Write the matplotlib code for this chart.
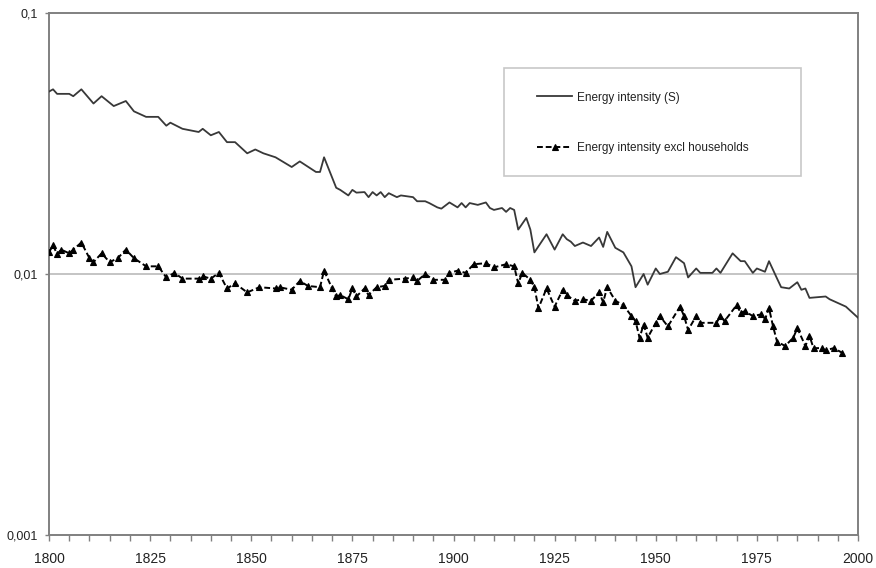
import matplotlib
matplotlib.use("Agg")
import matplotlib.pyplot as plt
from matplotlib.ticker import FixedLocator, MultipleLocator
from matplotlib.patches import Rectangle

plt.rcParams['font.family'] = ['Liberation Sans', 'DejaVu Sans']

# Energy intensity (S)
years_s = [1800, 1801, 1802, 1805, 1806, 1808, 1811, 1813, 1816, 1819, 1821, 1824, 1827, 1829,
           1830, 1833, 1837, 1838, 1840, 1842, 1844, 1846, 1849, 1851, 1853, 1856, 1860, 1862,
           1866, 1867, 1868, 1871, 1872, 1874, 1875, 1876, 1878, 1879, 1880, 1881, 1882, 1883,
           1884, 1886, 1887, 1890, 1891, 1893, 1894, 1896, 1897, 1899, 1901, 1902, 1903, 1904,
           1906, 1908, 1909, 1910, 1912, 1913, 1914, 1915, 1916, 1918, 1919, 1920, 1923, 1925,
           1927, 1928, 1929, 1930, 1932, 1934, 1936, 1937, 1938, 1940, 1942, 1944, 1945, 1947,
           1948, 1950, 1951, 1953, 1955, 1957, 1958, 1960, 1961, 1964, 1965, 1966, 1969, 1971,
           1972, 1974, 1975, 1977, 1978, 1980, 1981, 1983, 1985, 1986, 1987, 1988, 1992, 1993,
           1997, 2000]
vals_s = [0.050, 0.051, 0.049, 0.049, 0.048, 0.051, 0.045, 0.048, 0.044, 0.046, 0.042, 0.040, 0.040, 0.037,
          0.038, 0.036, 0.035, 0.036, 0.034, 0.035, 0.032, 0.032, 0.029, 0.030, 0.029, 0.028, 0.0257, 0.027,
          0.0246, 0.0246, 0.028, 0.0214, 0.021, 0.020, 0.021, 0.0205, 0.0206, 0.0197, 0.0206, 0.020, 0.0206, 0.0197,
          0.0204, 0.0197, 0.020, 0.0197, 0.019, 0.019, 0.0187, 0.018, 0.0178, 0.0188, 0.018, 0.0187, 0.018, 0.0187,
          0.0184, 0.0188, 0.0179, 0.0176, 0.0179, 0.0173, 0.0179, 0.0176, 0.0148, 0.0164, 0.0148, 0.0121, 0.0142, 0.0124,
          0.0142, 0.0136, 0.0133, 0.0128, 0.0132, 0.0128, 0.0138, 0.0127, 0.0145, 0.0126, 0.0121, 0.0107, 0.0089, 0.0100,
          0.0091, 0.0105, 0.0100, 0.0102, 0.0116, 0.0110, 0.0097, 0.0105, 0.0101, 0.0101, 0.0105, 0.0101, 0.0120, 0.0112,
          0.0112, 0.0101, 0.0105, 0.0102, 0.0112, 0.0096, 0.0089, 0.0088, 0.0093, 0.0087, 0.0088, 0.0081, 0.0082, 0.0080,
          0.0075, 0.0068]

# Energy intensity excl households
years_x = [1800, 1801, 1802, 1803, 1805, 1806, 1808, 1810, 1811, 1813, 1815, 1817, 1819, 1821, 1824, 1827,
           1829, 1831, 1833, 1837, 1838, 1840, 1842, 1844, 1846, 1849, 1852, 1856, 1857, 1860, 1862, 1864,
           1867, 1868, 1870, 1871, 1872, 1874, 1875, 1876, 1878, 1879, 1881, 1883, 1884, 1888, 1890, 1891,
           1893, 1895, 1898, 1899, 1901, 1903, 1905, 1908, 1910, 1913, 1915, 1916, 1917, 1919, 1920, 1921,
           1923, 1925, 1927, 1928, 1930, 1932, 1934, 1936, 1937, 1938, 1940, 1942, 1944, 1945, 1946, 1947,
           1948, 1950, 1951, 1953, 1956, 1957, 1958, 1960, 1961, 1965, 1966, 1967, 1970, 1971, 1972, 1974,
           1976, 1977, 1978, 1979, 1980, 1982, 1984, 1985, 1987, 1988, 1989, 1991, 1992, 1994, 1996]
vals_x = [0.0121, 0.0129, 0.0119, 0.0124, 0.0120, 0.0124, 0.0132, 0.0115, 0.0111, 0.0120, 0.0111, 0.0115, 0.0124, 0.0115, 0.0107, 0.0107,
          0.0097, 0.0101, 0.0096, 0.0096, 0.0098, 0.0096, 0.0101, 0.0088, 0.0092, 0.0085, 0.0089, 0.0088, 0.0089, 0.0087, 0.0094, 0.0090,
          0.0089, 0.0103, 0.0088, 0.0082, 0.0083, 0.0080, 0.0088, 0.0082, 0.0088, 0.0083, 0.0089, 0.0090, 0.0095, 0.0096, 0.0097, 0.0094,
          0.0100, 0.0095, 0.0095, 0.0101, 0.0103, 0.0101, 0.0109, 0.0110, 0.0106, 0.0109, 0.0107, 0.0092, 0.0101, 0.0095, 0.0089, 0.0074,
          0.0088, 0.0075, 0.0087, 0.0083, 0.0079, 0.0080, 0.0079, 0.0085, 0.0078, 0.0089, 0.0079, 0.0076, 0.0069, 0.0066, 0.0057, 0.0064,
          0.0057, 0.0065, 0.0069, 0.0063, 0.0075, 0.0069, 0.0061, 0.0069, 0.0065, 0.0065, 0.0069, 0.0066, 0.0076, 0.0071, 0.0072, 0.0069,
          0.0070, 0.0067, 0.0074, 0.0063, 0.0055, 0.0053, 0.0057, 0.0062, 0.0053, 0.0058, 0.0052, 0.0052, 0.0051, 0.0052, 0.0050]

label_s = "Energy intensity (S)"
label_x = "Energy intensity excl households"
x_ticks = [1800, 1825, 1850, 1875, 1900, 1925, 1950, 1975, 2000]
y_ticks = [0.001, 0.01, 0.1]
y_tick_labels = ["0,001", "0,01", "0,1"]

W, H = 876, 568
L, R, T, B = 49, 858, 13, 535
fig = plt.figure(figsize=(W / 100, H / 100), dpi=100)
ax = fig.add_axes([L / W, (H - B) / H, (R - L) / W, (B - T) / H])

ax.set_yscale('log')
ax.set_xlim(1800, 2000)
ax.set_ylim(0.001, 0.1)

ax.axhline(0.01, color='#c4c4c4', lw=1.4, zorder=1)

l1, = ax.plot(years_s, vals_s, color='#383838', lw=1.3, zorder=3, label=label_s)
l2, = ax.plot(years_x, vals_x, color='black', lw=1.4, linestyle=(0, (3, 1.5)),
              marker='^', markersize=4.4, markerfacecolor='black', markeredgecolor='black',
              markeredgewidth=0.8, zorder=4, label=label_x)

ax.xaxis.set_major_locator(FixedLocator(x_ticks))
ax.xaxis.set_minor_locator(MultipleLocator(5))
ax.set_xticklabels([str(v) for v in x_ticks])
ax.yaxis.set_major_locator(FixedLocator(y_ticks))
ax.yaxis.set_minor_locator(FixedLocator([]))
ax.set_yticklabels(y_tick_labels)

ax.tick_params(axis='x', which='both', direction='out', length=4, width=1, color='#808080',
               labelsize=10, pad=8, labelcolor='#222222')
ax.tick_params(axis='y', which='major', direction='out', length=3, width=1, color='#808080',
               labelsize=9, pad=5, labelcolor='#222222')

for s in ax.spines.values():
    s.set_color('#808080')
    s.set_linewidth(1.4)

# legend box
lx0, lx1, ly0, ly1 = 504, 801, 68, 176
ax.add_patch(Rectangle(((lx0 - L) / (R - L), (B - ly1) / (B - T)),
                       (lx1 - lx0) / (R - L), (ly1 - ly0) / (B - T),
                       transform=ax.transAxes, facecolor='white', edgecolor='#c8c8c8',
                       lw=1.2, zorder=5))
leg = ax.legend(handles=[l1, l2], loc='center left',
                bbox_to_anchor=((537 - L) / (R - L), (B - 123) / (B - T)),
                frameon=False, fontsize=8.5, handlelength=3.0, handletextpad=0.35,
                labelspacing=3.3, borderpad=0, borderaxespad=0)
leg.set_zorder(6)
for t in leg.get_texts():
    t.set_color('#222222')

fig.savefig('out.png', dpi=100)
